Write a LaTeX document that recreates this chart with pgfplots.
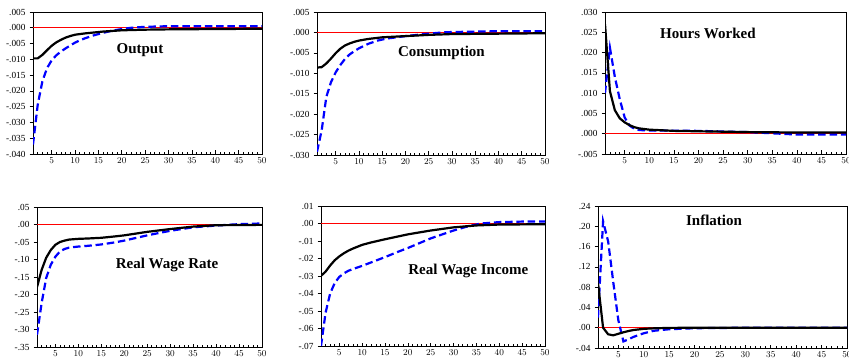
\documentclass[border=0pt]{standalone}
\usepackage{pgfplots}
\pgfplotsset{compat=1.18}
\usepackage{fontspec}
\setmainfont{Liberation Serif}

\tikzset{ttl/.style={font=\fontsize{15}{17}\selectfont\bfseries}}
\pgfplotsset{
  irf/.style={
    scale only axis, anchor=south west,
    xmin=1, xmax=50,
    xtick={5,10,...,50},
    minor xtick={1,...,50},
    xtick pos=bottom, ytick pos=left,
    xtick align=inside, ytick align=outside,
    major tick length=3.5pt, minor tick length=2.2pt,
    tick style={black, line width=0.6pt},
    axis line style={line width=0.9pt},
    tick label style={font=\fontsize{9.3}{10}\selectfont},
    xticklabel style={yshift=-0.5pt},
    yticklabel style={xshift=-0.5pt},
    scaled y ticks=false, scaled x ticks=false,
    clip=true,
  },
  zl/.style={red, line width=0.8pt},
  sl/.style={black, line width=2.2pt},
  dl/.style={blue, line width=2.2pt, dash pattern=on 7.5pt off 3.8pt},
}

\begin{document}
\begin{tikzpicture}
\useasboundingbox (0,0) rectangle (849pt,362pt);

% Output
\begin{axis}[irf, at={(33pt,208pt)}, width=229pt, height=142pt,
  ymin=-0.040, ymax=0.005,
  ytick={-0.040,-0.035,-0.030,-0.025,-0.020,-0.015,-0.010,-0.005,0,0.005},
  yticklabels={-.040,-.035,-.030,-.025,-.020,-.015,-.010,-.005,.000,.005}]
\addplot[zl] coordinates {(1,0) (50,0)};
\addplot[dl] coordinates {(1,-0.0370) (2,-0.0245) (3,-0.0170) (4,-0.0128) (5,-0.0103) (6,-0.0087) (7,-0.0075) (8,-0.0065) (9,-0.0056) (10,-0.0047) (11,-0.0040) (12,-0.0034) (14,-0.0024) (16,-0.0016) (18,-0.0009) (20,-0.0004) (22,0.0000) (25,0.0003) (30,0.0005) (40,0.0005) (50,0.0005)};
\addplot[sl] coordinates {(1,-0.0097) (2,-0.0097) (3,-0.0086) (4,-0.0071) (5,-0.0057) (6,-0.0046) (7,-0.0038) (8,-0.0031) (9,-0.0026) (10,-0.0022) (12,-0.0018) (14,-0.0015) (16,-0.0012) (18,-0.0010) (20,-0.0008) (25,-0.0006) (30,-0.0005) (40,-0.0004) (50,-0.0003)};
\node[ttl] at (rel axis cs:0.467,0.732) {Output};
\end{axis}

% Consumption
\begin{axis}[irf, at={(317pt,207pt)}, width=228pt, height=143pt,
  ymin=-0.030, ymax=0.005,
  ytick={-0.030,-0.025,-0.020,-0.015,-0.010,-0.005,0,0.005},
  yticklabels={-.030,-.025,-.020,-.015,-.010,-.005,.000,.005}]
\addplot[zl] coordinates {(1,0) (50,0)};
\addplot[dl] coordinates {(1,-0.0292) (2,-0.0240) (3,-0.0158) (4,-0.0122) (5,-0.0098) (6,-0.0080) (7,-0.0065) (8,-0.0054) (9,-0.0046) (10,-0.0039) (12,-0.0028) (14,-0.0020) (16,-0.0015) (18,-0.0012) (20,-0.0009) (25,-0.0003) (28,0.0000) (30,0.0001) (40,0.0003) (50,0.0003)};
\addplot[sl] coordinates {(1,-0.0086) (2,-0.0085) (3,-0.0076) (4,-0.0064) (5,-0.0051) (6,-0.0040) (7,-0.0032) (8,-0.0027) (9,-0.0023) (10,-0.0020) (12,-0.0016) (15,-0.0012) (20,-0.0009) (25,-0.0006) (30,-0.0004) (40,-0.0003) (50,-0.0002)};
\node[ttl] at (rel axis cs:0.546,0.713) {Consumption};
\end{axis}

% Hours Worked
\begin{axis}[irf, at={(605pt,208pt)}, width=241pt, height=142pt,
  ymin=-0.005, ymax=0.030,
  ytick={-0.005,0,0.005,0.010,0.015,0.020,0.025,0.030},
  yticklabels={-.005,.000,.005,.010,.015,.020,.025,.030}]
\addplot[zl] coordinates {(1,0) (50,0)};
\addplot[dl] coordinates {(1,0.0100) (2,0.0212) (3,0.0140) (4,0.0085) (5,0.0040) (6,0.0020) (7,0.0012) (8,0.0009) (10,0.0008) (20,0.0007) (30,0.0004) (35,0.0001) (40,-0.0002) (50,-0.0002)};
\addplot[sl] coordinates {(1,0.0270) (2,0.0105) (3,0.0058) (4,0.0038) (5,0.0028) (6,0.0021) (7,0.0016) (8,0.0013) (10,0.0010) (15,0.0007) (20,0.0006) (30,0.0004) (40,0.0003) (50,0.0003)};
\node[ttl] at (rel axis cs:0.427,0.852) {Hours Worked};
\end{axis}

% Real Wage Rate
\begin{axis}[irf, at={(37pt,15pt)}, width=225pt, height=140pt,
  ymin=-0.35, ymax=0.05,
  ytick={-0.35,-0.30,-0.25,-0.20,-0.15,-0.10,-0.05,0,0.05},
  yticklabels={-.35,-.30,-.25,-.20,-.15,-.10,-.05,.00,.05}]
\addplot[zl] coordinates {(1,0) (50,0)};
\addplot[dl] coordinates {(1,-0.315) (2,-0.225) (3,-0.153) (4,-0.115) (5,-0.092) (6,-0.077) (7,-0.070) (8,-0.066) (10,-0.063) (12,-0.061) (15,-0.057) (18,-0.051) (20,-0.046) (22,-0.040) (25,-0.031) (30,-0.018) (35,-0.008) (40,-0.003) (45,0.001) (50,0.003)};
\addplot[sl] coordinates {(1,-0.179) (2,-0.130) (3,-0.095) (4,-0.073) (5,-0.058) (6,-0.050) (7,-0.046) (8,-0.043) (10,-0.041) (12,-0.040) (15,-0.038) (18,-0.034) (20,-0.031) (22,-0.027) (25,-0.021) (30,-0.013) (35,-0.006) (40,-0.002) (50,-0.001)};
\node[ttl] at (rel axis cs:0.578,0.586) {Real Wage Rate};
\end{axis}

% Real Wage Income
\begin{axis}[irf, at={(321pt,16pt)}, width=224pt, height=140pt,
  ymin=-0.07, ymax=0.01,
  ytick={-0.07,-0.06,-0.05,-0.04,-0.03,-0.02,-0.01,0,0.01},
  yticklabels={-.07,-.06,-.05,-.04,-.03,-.02,-.01,.00,.01}]
\addplot[zl] coordinates {(1,0) (50,0)};
\addplot[dl] coordinates {(1,-0.070) (2,-0.051) (3,-0.040) (4,-0.034) (5,-0.0305) (6,-0.0285) (7,-0.027) (8,-0.026) (10,-0.0242) (12,-0.0222) (15,-0.0192) (18,-0.0160) (20,-0.0140) (22,-0.0118) (25,-0.0085) (30,-0.0040) (33,-0.0017) (36,0.0000) (40,0.0008) (45,0.0011) (50,0.0012)};
\addplot[sl] coordinates {(1,-0.0299) (2,-0.0275) (3,-0.0240) (4,-0.0210) (5,-0.0188) (6,-0.0170) (7,-0.0155) (8,-0.0143) (10,-0.0122) (12,-0.0108) (15,-0.0090) (20,-0.0062) (25,-0.0040) (30,-0.0022) (35,-0.0011) (40,-0.0006) (50,-0.0004)};
\node[ttl] at (rel axis cs:0.658,0.536) {Real Wage Income};
\end{axis}

% Inflation
\begin{axis}[irf, at={(598pt,14pt)}, width=249pt, height=142pt,
  ymin=-0.04, ymax=0.24,
  ytick={-0.04,0,0.04,0.08,0.12,0.16,0.20,0.24},
  yticklabels={-.04,.00,.04,.08,.12,.16,.20,.24}]
\addplot[zl] coordinates {(1,0) (50,0)};
\addplot[dl] coordinates {(1,0.020) (2,0.210) (3,0.170) (4,0.090) (5,0.015) (6,-0.027) (7,-0.023) (8,-0.018) (10,-0.011) (12,-0.006) (15,-0.003) (20,-0.001) (30,0.0) (50,0.0)};
\addplot[sl] coordinates {(1,0.088) (2,0.000) (3,-0.013) (4,-0.015) (5,-0.012) (6,-0.009) (7,-0.0065) (8,-0.0045) (10,-0.0022) (12,-0.0012) (15,-0.0004) (20,0.0) (50,0.0)};
\node[ttl] at (rel axis cs:0.466,0.901) {Inflation};
\end{axis}
\end{tikzpicture}
\end{document}
